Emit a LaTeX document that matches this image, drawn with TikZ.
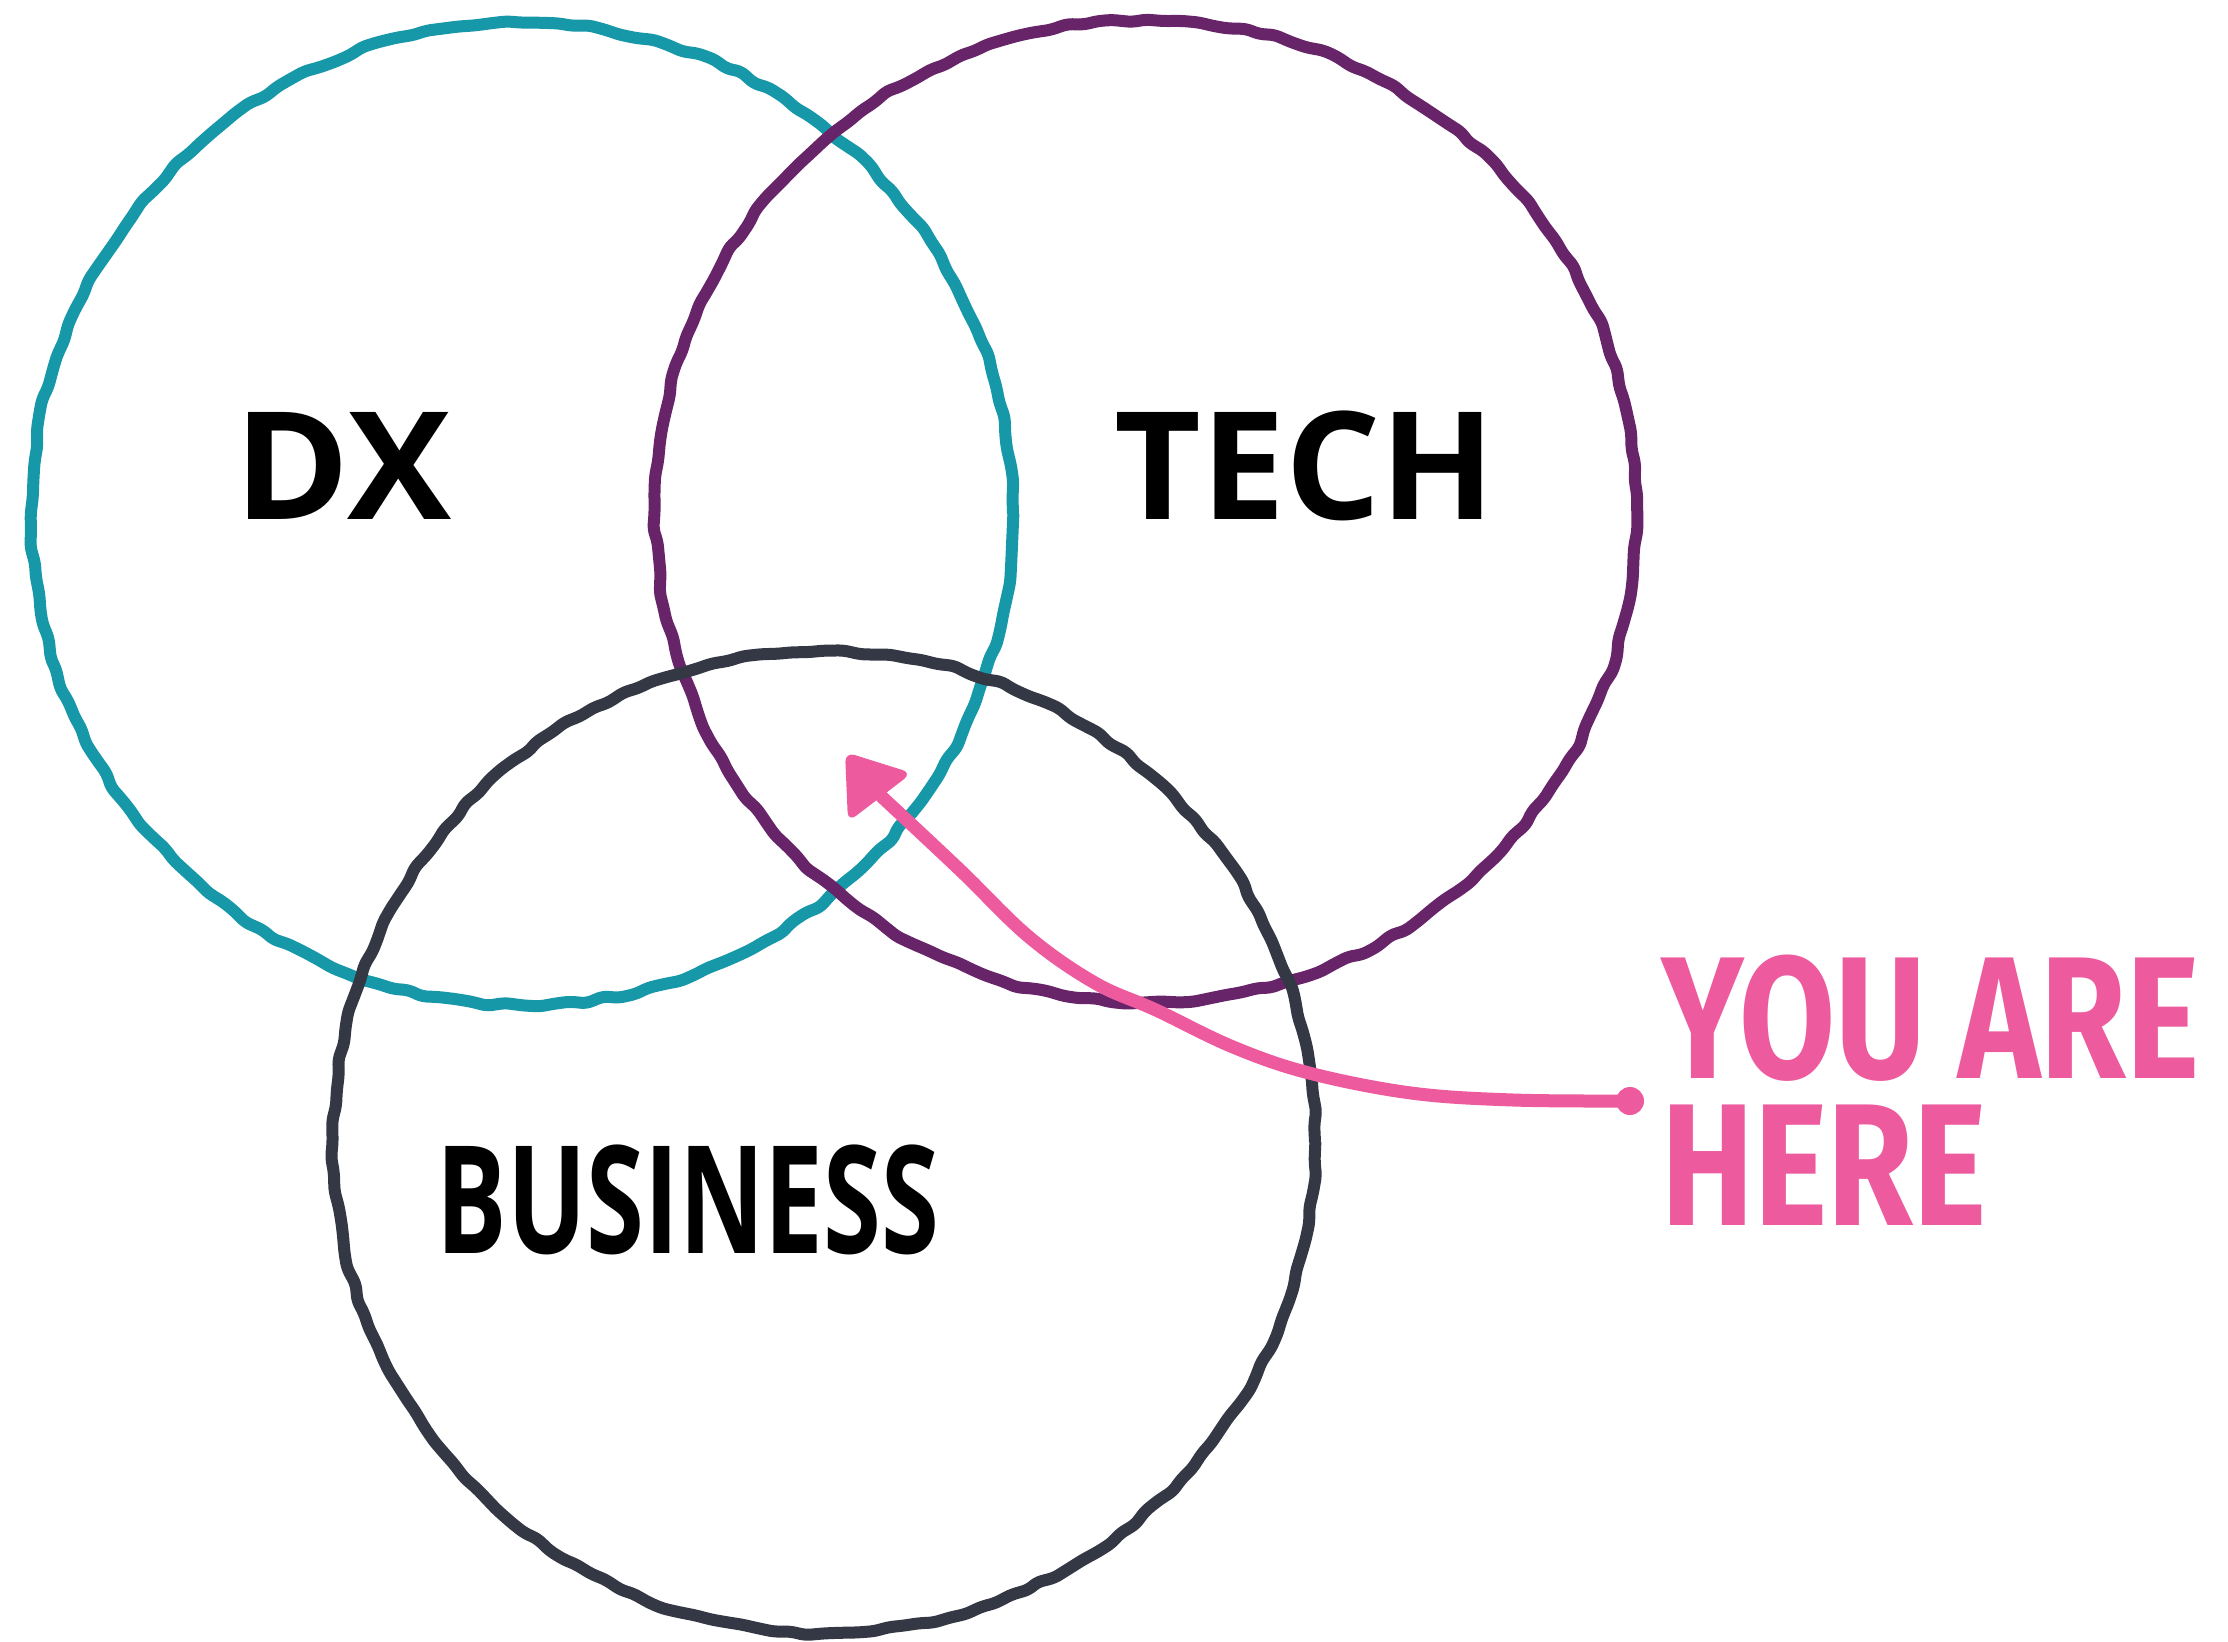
\documentclass[tikz,border=0pt]{standalone}
\usepackage{fontspec}
\setmainfont{Open Sans}
\newfontfamily\handfont{Fira Sans}
\usetikzlibrary{decorations.pathmorphing}
\definecolor{dxteal}{RGB}{22,152,168}
\definecolor{techpurple}{RGB}{104,36,104}
\definecolor{bizgray}{RGB}{52,56,68}
\definecolor{herepink}{RGB}{238,90,158}
\begin{document}
\begin{tikzpicture}[x=0.5pt,y=-0.5pt,
  ring/.style={line width=6pt, line join=round, rounded corners=2.5pt,
    decorate, decoration={random steps, segment length=8pt, amplitude=1.1pt}},
  setname/.style={font=\fontsize{75pt}{80pt}\selectfont\bfseries, inner sep=0pt, anchor=base},
  heretext/.style={font=\handfont\fontsize{87pt}{73.5pt}\selectfont\bfseries, text=herepink, inner sep=0pt, align=left}]
\pgfmathsetseed{7}
\useasboundingbox[fill=white] (0,0) rectangle (2228,1642);
% circles
\draw[ring, dxteal] (522,514) circle (245.5pt);
\draw[ring, techpurple] (1146,511) circle (245.5pt);
\draw[ring, bizgray] (824,1142) circle (245.5pt);
% set names
\node[setname] (dx) at (343,520) {\scalebox{1.04}[1]{DX}};
\node[setname] (tech) at (1305,520) {TECH};
\node[setname] (biz) at (688,1253) {\scalebox{0.7}[1]{BUSINESS}};
% you are here
\node[heretext, anchor=base west] (you) at (1661,1225) {\scalebox{0.8}[1]{YOU ARE}\\\scalebox{0.8}[1]{HERE}};
% arrow
\coordinate (tail) at (1630,1101);
\coordinate (p1) at (1513,1100);
\coordinate (p2) at (1411,1093);
\coordinate (p3) at (1309,1073);
\coordinate (p4) at (1233,1047);
\coordinate (p5) at (1156,1010);
\coordinate (p6) at (1095,983);
\coordinate (p7) at (1029,937);
\coordinate (p8) at (960,870);
\coordinate (hbase) at (882,797);
\coordinate (tip) at (845,752);
\coordinate (hd1) at (912,773);
\coordinate (hd2) at (848,822);
\draw[herepink, line width=6.5pt, line cap=round, line join=round]
  plot[smooth, tension=0.6] coordinates {(tail) (p1) (p2) (p3) (p4) (p5) (p6) (p7) (p8) (hbase)};
\fill[herepink] (tail) circle (7pt);
\fill[herepink, rounded corners=5pt] (tip) -- (hd1) -- (hd2) -- cycle;
\end{tikzpicture}
\end{document}
